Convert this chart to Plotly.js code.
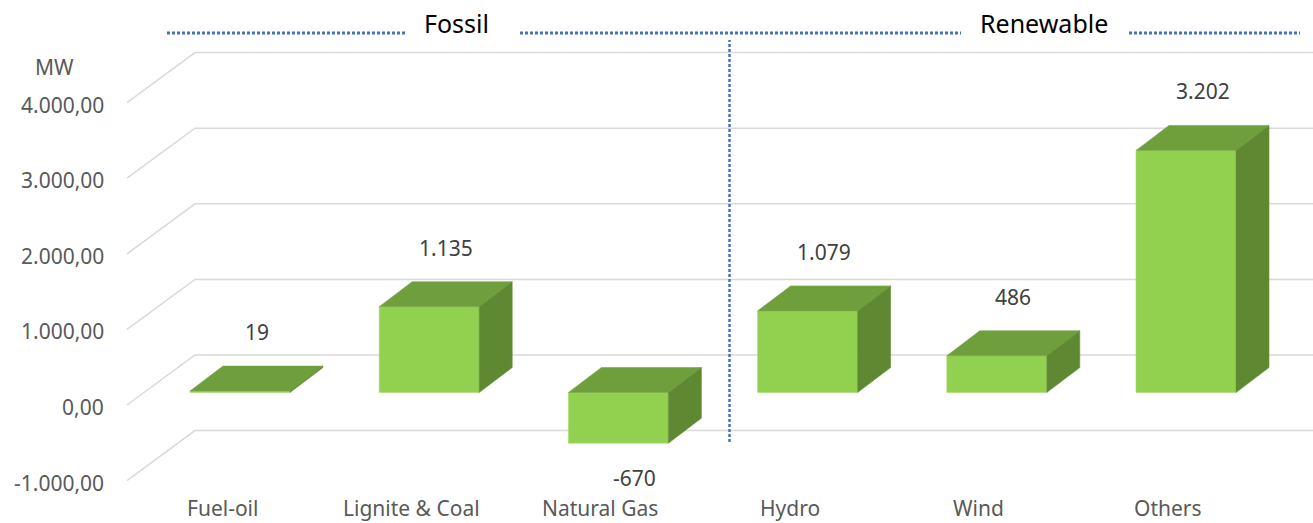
<!DOCTYPE html>
<html><head><meta charset="utf-8">
<script src="https://cdn.plot.ly/plotly-3.0.1.min.js"></script>
<style>html,body{margin:0;padding:0;background:#fff}#chart{width:1313px;height:523px}</style>
</head><body><div id="chart"></div>
<script>
// ---- data ----
const categories = ["Fuel-oil", "Lignite & Coal", "Natural Gas", "Hydro", "Wind", "Others"];
const values = [19, 1135, -670, 1079, 486, 3202];
const valueLabels = ["19", "1.135", "-670", "1.079", "486", "3.202"];
const yTicks = [-1000, 0, 1000, 2000, 3000, 4000];
const yTickLabels = ["-1.000,00", "0,00", "1.000,00", "2.000,00", "3.000,00", "4.000,00"];
const groupNames = ["Fossil", "Renewable"];
const unitLabel = "MW";

// ---- geometry (pixels -> data units) ----
const W = 1313, H = 523;
const pxPerMW = 0.0756;
const zeroPx = 392.5;
const catPx = 189.2, firstPx = 240;
const yRange = [(zeroPx - H) / pxPerMW, zeroPx / pxPerMW];
const xRange = [-firstPx / catPx, (W - firstPx) / catPx];
const barW = 100 / catPx;
const dX = 33 / catPx, dY = 25 / pxPerMW;          // bar depth
const wallFrontY = 12.5 / pxPerMW, wallBackY = 37.5 / pxPerMW;
const wallFrontX = (127 - firstPx) / catPx, wallBackX = (195 - firstPx) / catPx;
const xs = categories.map((c, i) => i);

const FRONT = "#92D050", TOP = "#6F9E3C", SIDE = "#5E8832";

// gridlines (perspective wall lines)
const shapes = yTicks.map(v => ({
  type: "path", xref: "x", yref: "y", layer: "below",
  path: `M ${wallFrontX},${v - wallFrontY} L ${wallBackX},${v + wallBackY} L ${xRange[1] + 1},${v + wallBackY}`,
  line: {color: "#D9D9D9", width: 1.5}
}));

// separator between groups
const sepX = (2 + 3) / 2 + dX / 2;
shapes.push({type: "line", xref: "x", yref: "paper", x0: sepX, x1: sepX, y0: 1 - 442 / H, y1: 1 - 40 / H,
  line: {color: "#4472C4", width: 2.5, dash: "3px,2px"}});
// header dotted lines
[[167, 407], [520, 961], [1129, 1300]].forEach(([a, b]) => shapes.push({
  type: "line", xref: "paper", yref: "paper", x0: a / W, x1: b / W, y0: 1 - 33 / H, y1: 1 - 33 / H,
  line: {color: "#4472C4", width: 2.8, dash: "3px,2px"}
}));

// faces
const topX = [], topY = [], sideX = [], sideY = [];
values.forEach((v, i) => {
  const t = Math.max(v, 0), b = Math.min(v, 0);
  const l = i - barW / 2, r = i + barW / 2;
  topX.push(l, r, r + dX, l + dX, l, null);
  topY.push(t, t, t + dY, t + dY, t, null);
  sideX.push(r, r, r + dX, r + dX, r, null);
  sideY.push(b, t, t + dY, b + dY, b, null);
});

const traces = [
  {type: "bar", x: xs, y: values, width: barW, marker: {color: FRONT, line: {color: "#A6DB6E", width: 0.6}},
   hoverinfo: "skip"},
  {type: "scatter", mode: "lines", x: topX, y: topY, fill: "toself", fillcolor: TOP,
   line: {color: "#78A845", width: 0.6}, hoverinfo: "skip"},
  {type: "scatter", mode: "lines", x: sideX, y: sideY, fill: "toself", fillcolor: SIDE,
   line: {color: "#66923A", width: 0.6}, hoverinfo: "skip"}
];

const FONT = "Noto Sans, Open Sans, sans-serif";
const annotations = [];
yTicks.forEach((v, k) => annotations.push({
  x: wallFrontX, y: v - wallFrontY, xref: "x", yref: "y", text: yTickLabels[k], showarrow: false,
  xanchor: "right", yanchor: "middle", xshift: -21, yshift: -2,
  font: {family: FONT, size: 21, color: "#595959"}
}));
annotations.push({x: 55 / W, y: 1 - 67 / H, xref: "paper", yref: "paper", text: unitLabel, showarrow: false,
  xanchor: "center", yanchor: "middle", font: {family: FONT, size: 21, color: "#595959"}});
categories.forEach((c, i) => annotations.push({
  x: i, y: 0, xref: "x", yref: "paper", text: c, showarrow: false,
  xanchor: "center", yanchor: "bottom", xshift: -18, yshift: -1,
  font: {family: FONT, size: 21, color: "#595959"}
}));
values.forEach((v, i) => {
  const pos = v >= 0;
  annotations.push({
    x: i + dX / 2, y: pos ? v + dY : v, xref: "x", yref: "y", text: valueLabels[i], showarrow: false,
    xanchor: "center", yanchor: "middle", yshift: pos ? 34 : -35,
    font: {family: FONT, size: 21, color: "#404040"}
  });
});
[[groupNames[0], 456], [groupNames[1], 1044]].forEach(([t, cx]) => annotations.push({
  x: cx / W, y: 1 - 23 / H, xref: "paper", yref: "paper", text: t, showarrow: false,
  xanchor: "center", yanchor: "middle", font: {family: FONT, size: 25, color: "#000000"}
}));

const layout = {
  width: W, height: H, margin: {l: 0, r: 0, t: 0, b: 0},
  paper_bgcolor: "#fff", plot_bgcolor: "#fff", showlegend: false,
  xaxis: {range: xRange, visible: false, fixedrange: true},
  yaxis: {range: yRange, visible: false, fixedrange: true},
  shapes, annotations
};
Plotly.newPlot("chart", traces, layout, {staticPlot: true, displayModeBar: false});
</script></body></html>
